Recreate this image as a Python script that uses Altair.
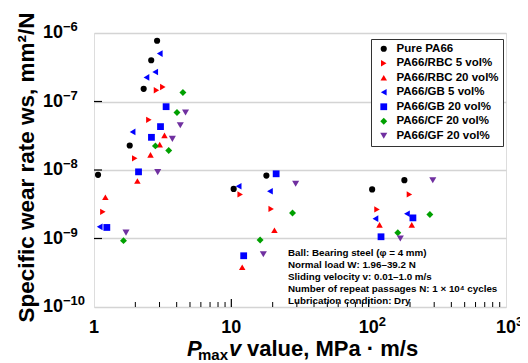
import altair as alt
import pandas as pd

# ---------------- data ----------------
series = ["Pure PA66", "PA66/RBC 5 vol%", "PA66/RBC 20 vol%", "PA66/GB 5 vol%",
          "PA66/GB 20 vol%", "PA66/CF 20 vol%", "PA66/GF 20 vol%"]
shapes = ["circle", "triangle-right", "triangle-up", "triangle-left",
          "square", "diamond", "triangle-down"]
colors = ["#000000", "#ff0000", "#ff0000", "#0000ff", "#0000ff", "#00a000", "#7030a0"]
sizes = [38, 50, 50, 50, 46, 32, 50]

pure_x = [2.88, 2.61, 2.30, 1.82, 1.07, 10.4, 18.0, 106, 182]
pure_y = [7.7e-7, 4.0e-7, 1.53e-7, 2.28e-8, 8.5e-9, 5.3e-9, 8.3e-9, 5.2e-9, 7.1e-9]
rbc5_x = [2.85, 3.17, 2.51, 1.98, 1.16, 11.6, 19.5, 115, 198]
rbc5_y = [1.46e-7, 1.63e-7, 5.4e-8, 1.48e-8, 2.45e-9, 4.4e-9, 2.7e-9, 2.66e-9, 4.4e-9]
rbc20_x = [3.26, 3.01, 2.58, 2.07, 1.21, 12.0, 20.6, 120, 206]
rbc20_y = [3.2e-8, 2.35e-8, 1.66e-8, 6.9e-9, 4.0e-9, 3.8e-10, 1.32e-9, 1.58e-9, 1.58e-9]
gb5_x = [3.01, 2.79, 2.41, 1.91, 1.10, 11.3, 19.1, 112, 190]
gb5_y = [5.0e-7, 2.7e-7, 2.25e-7, 3.6e-8, 1.48e-9, 5.8e-9, 4.9e-9, 1.95e-9, 2.3e-9]
gb20_x = [3.35, 3.05, 2.62, 2.11, 1.24, 12.3, 21.2, 123, 210]
gb20_y = [8.4e-8, 4.3e-8, 3.0e-8, 9.4e-9, 1.45e-9, 5.6e-10, 8.8e-9, 1.06e-9, 2.0e-9]
cf20_x = [4.44, 4.02, 3.50, 2.80, 1.64, 16.2, 27.9, 163, 279]
cf20_y = [1.35e-7, 6.9e-8, 1.93e-8, 2.25e-8, 9.3e-10, 9.5e-10, 2.36e-9, 1.21e-9, 2.24e-9]
gf20_x = [4.64, 4.25, 3.72, 2.91, 1.71, 17.1, 29.4, 170, 293]
gf20_y = [6.9e-8, 4.5e-8, 2.85e-8, 9.3e-9, 1.22e-9, 5.9e-10, 6.3e-9, 1.0e-9, 7.1e-9]

x_tick_values = [1, 10, 100, 1000]
x_tick_base = ["1", "10", "10", "10"]
x_tick_sup = ["", "", "2", "3"]
y_tick_values = [1e-10, 1e-9, 1e-8, 1e-7, 1e-6]
y_tick_base = ["10", "10", "10", "10", "10"]
y_tick_sup = ["−10", "−9", "−8", "−7", "−6"]
x_minor = [2, 3, 4, 5, 6, 7, 8, 9, 20, 30, 40, 50, 60, 70, 80, 90,
           200, 300, 400, 500, 600, 700, 800, 900]
x_major_inner = [10, 100]
y_major_inner = [1e-9, 1e-8, 1e-7]

note_lines = ["Ball: Bearing steel (φ = 4 mm)",
              "Normal load W: 1.96–39.2 N",
              "Sliding velocity v: 0.01–1.0 m/s",
              "Number of repeat passages N: 1 × 10⁴ cycles",
              "Lubrication condition: Dry"]

# ---------------- build tables ----------------
xs = [pure_x, rbc5_x, rbc20_x, gb5_x, gb20_x, cf20_x, gf20_x]
ys = [pure_y, rbc5_y, rbc20_y, gb5_y, gb20_y, cf20_y, gf20_y]
rows = []
for name, sx, sy in zip(series, xs, ys):
    for a, b in zip(sx, sy):
        rows.append({"series": name, "x": a, "y": b})
df = pd.DataFrame(rows)

W, H = 412, 274
FONT = "Liberation Sans"

xscale = alt.Scale(type="log", domain=[1, 1000], nice=False)
yscale = alt.Scale(type="log", domain=[1e-10, 1e-6], nice=False)

points = alt.Chart(df).mark_point(filled=True, opacity=1, strokeWidth=0).encode(
    x=alt.X("x:Q", scale=xscale,
            axis=alt.Axis(values=x_tick_values, labels=False, title=None,
                          ticks=False, domain=False, grid=False)),
    y=alt.Y("y:Q", scale=yscale,
            axis=alt.Axis(values=y_tick_values, labels=False,
                          title="Specific wear rate ws, mm²/N",
                          titleFont=FONT, titleFontSize=22.5, titleFontWeight="bold",
                          titleColor="black", titleAngle=-90, titleX=-61, titleY=134,
                          titleAlign="center", titleBaseline="alphabetic",
                          ticks=False, domain=False, grid=True,
                          gridColor="#d4d4d4", gridWidth=1.5)),
    color=alt.Color("series:N", scale=alt.Scale(domain=series, range=colors),
                    legend=alt.Legend(title=None, orient="none", legendX=277, legendY=6,
                                      fillColor="white", strokeColor="#333333",
                                      padding=4, labelFont=FONT, labelFontSize=11.5,
                                      labelFontWeight="bold", labelColor="black",
                                      symbolSize=42, symbolStrokeWidth=0,
                                      rowPadding=1.5, labelOffset=7, symbolOffset=3)),
    shape=alt.Shape("series:N", scale=alt.Scale(domain=series, range=shapes)),
    size=alt.Size("series:N", scale=alt.Scale(domain=series, range=sizes), legend=None),
)

minor_df = pd.DataFrame({"x": x_minor})
minor_ticks = alt.Chart(minor_df).mark_rule(color="black", strokeWidth=1).encode(
    x=alt.X("x:Q", scale=xscale), y=alt.value(H), y2=alt.value(H - 5))

major_df = pd.DataFrame({"x": x_major_inner})
major_ticks = alt.Chart(major_df).mark_rule(color="black", strokeWidth=1.2).encode(
    x=alt.X("x:Q", scale=xscale), y=alt.value(H), y2=alt.value(H - 8))

ymaj_df = pd.DataFrame({"y": y_major_inner})
y_ticks = alt.Chart(ymaj_df).mark_rule(color="black", strokeWidth=1.2).encode(
    y=alt.Y("y:Q", scale=yscale), x=alt.value(0), x2=alt.value(8))

# tick labels as text (with real superscripts)
xl_df = pd.DataFrame({"v": x_tick_values, "base": x_tick_base, "sup": x_tick_sup})
x_lab = alt.Chart(xl_df).mark_text(align="center", baseline="top", font=FONT,
                                   fontSize=18, fontWeight="bold", color="black").encode(
    x=alt.X("v:Q", scale=xscale), y=alt.value(H + 12), text="base:N")
x_sup = alt.Chart(xl_df).mark_text(align="left", baseline="top", font=FONT, dx=10,
                                   fontSize=13, fontWeight="bold", color="black").encode(
    x=alt.X("v:Q", scale=xscale), y=alt.value(H + 9), text="sup:N")

yl_df = pd.DataFrame({"v": y_tick_values, "base": y_tick_base, "sup": y_tick_sup})
y_lab = alt.Chart(yl_df).mark_text(align="right", baseline="middle", font=FONT,
                                   fontSize=18, fontWeight="bold", color="black").encode(
    y=alt.Y("v:Q", scale=yscale), x=alt.value(-31), text="base:N")
y_sup = alt.Chart(yl_df).mark_text(align="left", baseline="middle", font=FONT, dy=-6,
                                   fontSize=13, fontWeight="bold", color="black").encode(
    y=alt.Y("v:Q", scale=yscale), x=alt.value(-31), text="sup:N")

note_df = pd.DataFrame({"t": ["\n".join(note_lines)]})
note = alt.Chart(note_df).mark_text(
    align="left", baseline="middle", lineBreak="\n", lineHeight=12,
    font=FONT, fontSize=9.8, fontWeight="bold", color="black"
).encode(text="t:N", x=alt.value(194), y=alt.value(220))

def tx(s, x, y, size, style="normal"):
    return alt.Chart(pd.DataFrame({"t": [s]})).mark_text(
        align="left", baseline="alphabetic", font=FONT, fontSize=size,
        fontWeight="bold", fontStyle=style, color="black"
    ).encode(text="t:N", x=alt.value(x), y=alt.value(y))

xt1 = tx("P", 93, 323, 22, "italic")
xt2 = tx("max", 104, 327, 15)
xt3 = tx("v", 135, 323, 22, "italic")
xt4 = tx("value, MPa · m/s", 153, 323, 22)

chart = alt.layer(points, minor_ticks, major_ticks, y_ticks, x_lab, x_sup, y_lab, y_sup,
                  note, xt1, xt2, xt3, xt4).properties(
    width=W, height=H,
    padding={"left": 86, "top": 25, "right": 14, "bottom": 56},
    autosize=alt.AutoSizeParams(type="none"),
).configure_view(stroke="black", strokeWidth=2).configure(background="white")

chart.save("out.html", embed_options={"renderer": "svg", "actions": False})
